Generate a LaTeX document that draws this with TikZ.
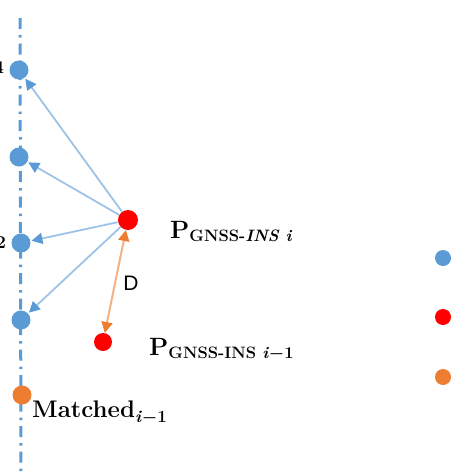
\documentclass[tikz,border=0pt]{standalone}
\usepackage{fontspec}
\usepackage{amsmath}
\usetikzlibrary{arrows.meta}
\definecolor{myblue}{HTML}{5B9BD5}
\definecolor{lineblue}{HTML}{9DC3E6}
\definecolor{myred}{HTML}{FF0000}
\definecolor{myorange}{HTML}{ED7D31}
\definecolor{lineorange}{HTML}{F4B183}
\newfontfamily\sansD{Liberation Sans}
\tikzset{
  dot/.style={circle, inner sep=0pt, minimum size=#1},
  bdot/.style={dot=19pt, fill=myblue},
  rdot/.style={dot=20pt, fill=myred},
  odot/.style={dot=19pt, fill=myorange},
  ldot/.style={dot=16pt, fill=#1},
  conn/.style={draw=lineblue, line width=1.8pt, -{Triangle[length=11pt,width=11pt,fill=myblue,color=myblue]}, shorten >=1pt},
  dist/.style={draw=lineorange, line width=2pt, {Triangle[length=11pt,width=11pt,color=myorange]}-{Triangle[length=11pt,width=11pt,color=myorange]}},
  axis/.style={draw=myblue, line width=3pt, dash pattern=on 11pt off 6pt on 2.5pt off 6pt},
  lbl/.style={inner sep=0pt, anchor=west, font=\bfseries},
  cut/.style={inner sep=0pt, font=\bfseries\fontsize{18}{20}\selectfont}
}
\begin{document}
\begin{tikzpicture}[x=1pt,y=-1pt]
\useasboundingbox (0,0) rectangle (474,474);
\coordinate (top) at (20,18);
\coordinate (bot) at (21,472);
\draw[axis] (top) -- (bot);
% left cut labels
\node[cut] (c4) at (-1,68) {4};
\node[cut] (c3) at (-5,157) {3};
\node[cut] (c2) at (1,243) {2};
\node[cut] (c1) at (-4,320) {1};
% dots
\node[bdot] (b4) at (19,70) {};
\node[bdot] (b3) at (19,157) {};
\node[bdot] (b2) at (21,243) {};
\node[bdot] (b1) at (21,320) {};
\node[rdot] (ri) at (128,220) {};
\node[dot=18pt, fill=myred] (rj) at (103,342) {};
\node[odot] (m) at (22,395) {};
% arrows
\draw[conn] (ri) -- (b4);
\draw[conn] (ri) -- (b3);
\draw[conn] (ri) -- (b2);
\draw[conn] (ri) -- (b1);
\draw[dist] (rj) -- (ri);
\node[inner sep=0pt, font=\sansD\fontsize{21}{23}\selectfont] (D) at (131,283) {D};
% labels
\node[lbl] (li) at (170,232) {\fontsize{25}{27}\selectfont P\raisebox{-3pt}{\fontsize{16.5}{18}\selectfont GNSS-\textit{INS} \textit{i}}};
\node[lbl] (lj) at (149,350) {\fontsize{25}{27}\selectfont P\raisebox{-3pt}{\fontsize{16.5}{18}\selectfont GNSS-INS \textit{i}$\boldsymbol{-}$1}};
\node[lbl] (lm) at (32,413) {\fontsize{24}{26}\selectfont Matched\raisebox{-5pt}{\fontsize{17}{19}\selectfont\textit{i}$\boldsymbol{-}$1}};
% legend
\node[ldot=myblue] (g1) at (443,258) {};
\node[ldot=myred] (g2) at (443,317) {};
\node[ldot=myorange] (g3) at (443,377) {};
\end{tikzpicture}
\end{document}
